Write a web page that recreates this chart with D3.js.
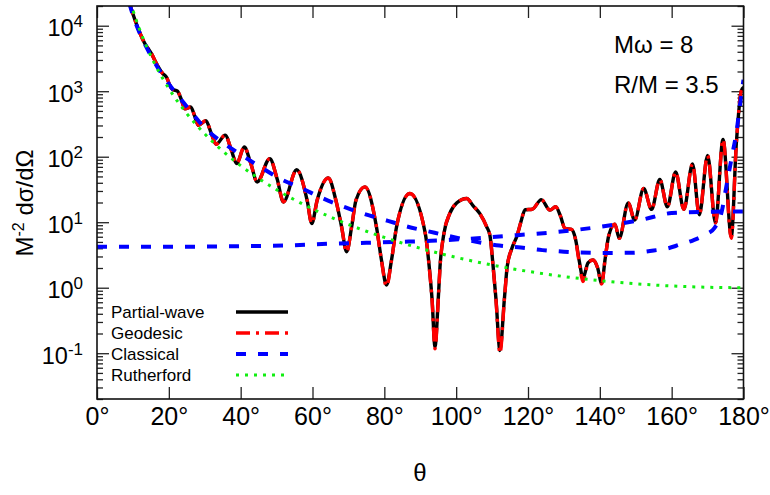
<!DOCTYPE html>
<html>
<head>
<meta charset="utf-8">
<script src="https://cdn.jsdelivr.net/npm/d3@7"></script>
<style>
  html, body { margin: 0; padding: 0; background: #fff; }
  svg { display: block; }
  text { font-family: "Liberation Sans", Arial, sans-serif; fill: #000; }
</style>
</head>
<body>
<svg id="chart" width="770" height="495"></svg>
<script>
// Scattering angle ticks (degrees)
const xTicks = [0, 20, 40, 60, 80, 100, 120, 140, 160, 180];
const yMajorExponents = [-1, 0, 1, 2, 3, 4];

// Partial-wave cross section
const pwTheta = [8.8, 10.5, 12.0, 13.4, 14.5, 15.2, 16.3, 17.1, 18.3, 19.4, 20.2, 21.0, 22.4, 23.5, 24.5,
  26.1, 27.2, 28.2, 30.3, 31.8, 33.2, 35.7, 37.4, 38.9, 41.0, 42.8, 44.6, 48.1, 50.2, 51.9,
  55.6, 58.5, 59.8, 61.3, 64.4, 66.5, 68.1, 69.5, 70.9, 72.1, 74.6, 77.8, 79.2, 80.6, 82.0,
  83.4, 87.1, 91.4, 92.5, 93.3, 94.1, 95.0, 95.5, 96.6, 98.2, 100.2, 102.9, 104.8, 106.6, 108.5,
  109.4, 110.3, 111.1, 112.2, 113.4, 114.2, 115.5, 117.0, 118.0, 119.2, 121.2, 123.7, 126.1, 127.7,
  129.0, 130.3, 132.1, 133.2, 134.3, 135.3, 136.7, 138.1, 139.4, 140.5, 141.5, 142.5, 144.2, 145.4,
  147.9, 149.7, 152.2, 154.4, 156.7, 158.8, 161.1, 163.4, 165.8, 167.7, 170.0, 172.2, 174.3, 176.6,
  178.0, 179.4, 180.0];
const pwValue = [24000, 12600, 7600, 5250, 4270, 3720, 2820, 2340, 1860, 1620, 1260, 1070, 1000, 741, 537,
  575, 417, 302, 355, 229, 155, 214, 126, 78.5, 141, 79.4, 41.2, 93.3, 44.7, 20.4,
  63.1, 21.7, 9.55, 21.7, 47.3, 21.7, 8.51, 3.55, 8.51, 21.7, 34.7, 8.51, 2.65, 1.10, 2.65,
  8.51, 27.4, 6.76, 2.09, 0.652, 0.126, 0.652, 2.09, 6.76, 13.5, 19.8, 23.0, 17.6, 13.5, 8.51,
  6.3, 2.09, 0.652, 0.11, 0.652, 2.09, 3.98, 6.31, 10.0, 15.5, 15.8, 22.1, 15.3, 17.2,
  12.6, 8.04, 7.76, 5.62, 2.51, 1.40, 2.40, 2.65, 2.0, 1.17, 2.82, 6.31, 9.35, 5.66,
  19.7, 10.8, 32.7, 15.7, 44.8, 17.2, 58.5, 15.7, 77.6, 13.0, 105, 9.77, 184, 6.03,
  158, 1020, 1150];

// Geodesic approximation
const geoTheta = pwTheta;
const geoValue = [24000, 12600, 7600, 5250, 4270, 3720, 2820, 2340, 1860, 1620, 1260, 1070, 1000, 741, 537,
  575, 417, 302, 355, 229, 155, 214, 126, 78.5, 141, 79.4, 41.2, 93.3, 44.7, 20.4,
  63.1, 21.7, 9.55, 21.7, 47.3, 21.7, 8.51, 3.50, 8.51, 21.7, 34.7, 8.51, 2.60, 1.05, 2.60,
  8.51, 27.4, 6.76, 2.05, 0.630, 0.117, 0.630, 2.05, 6.76, 13.5, 19.8, 23.0, 17.6, 13.5, 8.51,
  6.3, 2.05, 0.630, 0.100, 0.630, 2.05, 3.98, 6.31, 10.0, 15.5, 15.8, 22.1, 15.3, 17.2,
  12.6, 8.04, 7.76, 5.50, 2.35, 1.24, 2.35, 2.65, 2.0, 1.14, 2.82, 6.31, 9.35, 5.66,
  19.7, 10.8, 32.7, 15.7, 44.8, 17.2, 58.5, 15.7, 77.6, 13.0, 105, 9.77, 184, 5.66,
  158, 1020, 1150];

// Classical cross section: outer branch and inner branch
const clOuterTheta = [9, 10.5, 12, 15, 18, 22, 26, 30, 35, 40, 46, 51, 57, 63, 69, 74, 81, 86, 94, 103,
  112, 118, 124, 130, 140, 149, 155, 159, 162, 166, 169, 172, 174, 175, 176, 177, 178, 179, 180];
const clOuterValue = [22000, 12000, 7500, 3500, 1840, 930, 500, 275, 165, 108, 67, 46, 33, 23, 17, 13.6, 10.5, 8.7, 6.9, 5.35,
  4.4, 4.1, 3.75, 3.55, 3.4, 3.42, 3.7, 4.0, 4.5, 5.3, 6.3, 8.3, 15, 30, 60, 117, 230, 600, 1500];
const clInnerTheta = [0, 20, 40, 55, 65, 75, 83, 93, 105, 117, 128, 143, 152, 160, 170, 180];
const clInnerValue = [4.23, 4.23, 4.3, 4.45, 4.7, 4.85, 5.0, 5.2, 5.66, 6.35, 7.1, 9.0, 11, 13.8, 14.4, 14.6];

// Rutherford cross section
const ruTheta = [8, 9, 10, 12, 14, 16, 18, 20, 25, 30, 35, 40, 45, 50, 55, 60, 65, 70, 75, 80, 85, 90,
  100, 110, 120, 130, 140, 150, 160, 170, 180];
const ruValue = [42235, 26389, 17331, 8377, 4533, 2666, 1670, 1100, 455.7, 222.9, 122.3, 73.08, 46.63, 31.35, 22.00,
  16.0, 12.0, 9.239, 7.281, 5.858, 4.800, 4.0, 2.904, 2.221, 1.778, 1.482, 1.2825, 1.1487, 1.0632, 1.0154, 1.0];

const legendNames = ["Partial-wave", "Geodesic", "Classical", "Rutherford"];

const styles = {
  pw:  { stroke: "#000000", width: 3.4, dash: null },
  geo: { stroke: "#ff0000", width: 3.4, dash: "14,6,3,6" },
  cl:  { stroke: "#0000ff", width: 4, dash: "10,12" },
  ru:  { stroke: "#11ee11", width: 3, dash: "3,6" }
};

const svg = d3.select("#chart");
const L = 97, R = 743.5, T = 6, B = 399;

const x = d3.scaleLinear().domain([0, 180]).range([L, R]);
const y = d3.scaleLog().domain([0.02, 20000]).range([B, T]);

const majorVals = yMajorExponents.map(e => Math.pow(10, e));
const minorVals = [];
for (let e = -2; e <= 4; e++) {
  for (let m = 2; m <= 9; m++) {
    const v = m * Math.pow(10, e);
    if (v >= 0.02 && v <= 20000) minorVals.push(v);
  }
}

svg.append("defs").append("clipPath").attr("id", "plotClip")
  .append("rect").attr("x", L).attr("y", T).attr("width", R - L).attr("height", B - T);

// Axes with inward ticks
function styleAxis(g) {
  g.select(".domain").remove();
  g.selectAll(".tick line").attr("stroke", "#222").attr("stroke-width", 1.3);
}

svg.append("g").attr("transform", `translate(0,${B})`)
  .call(d3.axisBottom(x).tickValues(xTicks).tickSize(-12).tickPadding(26).tickFormat(d => d + "°"))
  .call(styleAxis)
  .call(g => g.selectAll("text").attr("dy", null).attr("font-size", 25).attr("font-family", "Liberation Sans, Arial, sans-serif"));

svg.append("g").attr("transform", `translate(0,${T})`)
  .call(d3.axisTop(x).tickValues(xTicks).tickSize(-12).tickFormat(""))
  .call(styleAxis);

const leftMajor = svg.append("g").attr("transform", `translate(${L},0)`)
  .call(d3.axisLeft(y).tickValues(majorVals).tickSize(-12).tickPadding(14).tickFormat(""))
  .call(styleAxis);
leftMajor.selectAll(".tick").each(function(d) {
  const e = Math.round(Math.log10(d));
  const t = d3.select(this).select("text")
    .attr("dy", null).attr("y", 10).attr("font-size", 23.5)
    .attr("font-family", "Liberation Sans, Arial, sans-serif").text(null);
  t.append("tspan").text("10");
  t.append("tspan").attr("font-size", 17).attr("dy", -9).text(String(e));
});

svg.append("g").attr("transform", `translate(${L},0)`)
  .call(d3.axisLeft(y).tickValues(minorVals).tickSize(-6).tickFormat(""))
  .call(styleAxis);
svg.append("g").attr("transform", `translate(${R},0)`)
  .call(d3.axisRight(y).tickValues(majorVals).tickSize(-12).tickFormat(""))
  .call(styleAxis);
svg.append("g").attr("transform", `translate(${R},0)`)
  .call(d3.axisRight(y).tickValues(minorVals).tickSize(-6).tickFormat(""))
  .call(styleAxis);

// Curves
const line = d3.line().x(d => x(d[0])).y(d => y(d[1])).curve(d3.curveMonotoneX);
const plot = svg.append("g").attr("clip-path", "url(#plotClip)");

function drawSeries(thetas, values, st) {
  const pts = thetas.map((t, i) => [t, values[i]]);
  plot.append("path").datum(pts)
    .attr("d", line)
    .attr("fill", "none")
    .attr("stroke", st.stroke)
    .attr("stroke-width", st.width)
    .attr("stroke-linejoin", "round")
    .attr("stroke-dasharray", st.dash);
}
drawSeries(pwTheta, pwValue, styles.pw);
drawSeries(geoTheta, geoValue, styles.geo);
drawSeries(clOuterTheta, clOuterValue, styles.cl);
drawSeries(clInnerTheta, clInnerValue, styles.cl);
drawSeries(ruTheta, ruValue, styles.ru);

// Frame
svg.append("rect").attr("x", L).attr("y", T).attr("width", R - L).attr("height", B - T)
  .attr("fill", "none").attr("stroke", "#111").attr("stroke-width", 1.6);

// Legend
const legendStyles = [styles.pw, styles.geo, styles.cl, styles.ru];
const legend = svg.append("g");
legendNames.forEach((name, i) => {
  const cy = 312 + i * 21;
  legend.append("text").attr("x", 111).attr("y", cy + 6).attr("font-size", 17).text(name);
  const st = legendStyles[i];
  legend.append("line").attr("x1", 236).attr("x2", 288).attr("y1", cy).attr("y2", cy)
    .attr("stroke", st.stroke).attr("stroke-width", st.width).attr("stroke-dasharray", st.dash);
});

// Parameter annotations
svg.append("text").attr("x", 614).attr("y", 53).attr("font-size", 24).text("Mω = 8");
svg.append("text").attr("x", 614).attr("y", 93).attr("font-size", 24).text("R/M = 3.5");

// Axis titles
svg.append("text").attr("x", 420).attr("y", 481).attr("text-anchor", "middle").attr("font-size", 24).text("θ");
const yTitle = svg.append("text")
  .attr("transform", "translate(33,203) rotate(-90)")
  .attr("text-anchor", "middle").attr("font-size", 24);
yTitle.append("tspan").text("M");
yTitle.append("tspan").attr("font-size", 16).attr("dy", -9).text("-2");
yTitle.append("tspan").attr("dy", 9).text(" dσ/dΩ");
</script>
</body>
</html>
